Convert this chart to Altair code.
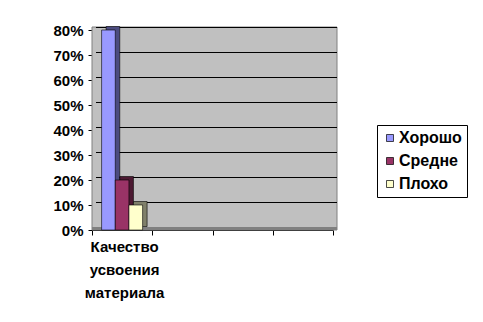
import altair as alt
import pandas as pd

categories = ["Качество усвоения материала", "c2", "c3", "c4"]
series = ["Хорошо", "Средне", "Плохо"]
values = [0.80, 0.20, 0.10]
front_colors = ["#9999FF", "#993366", "#FFFFCC"]
side_colors = ["#4C4C80", "#4D1A33", "#80806A"]
y_ticks = [0.0, 0.1, 0.2, 0.3, 0.4, 0.5, 0.6, 0.7, 0.8]

W, H = 241, 200
DX, DY = 4, -3
BDX, BDY = 4.5, -3.5
FONT = "Liberation Sans"

bars = pd.DataFrame({"cat": [categories[0]] * 3, "series": series,
                     "value": values, "dark": side_colors})
wall = pd.DataFrame({"lo": [0.0], "hi": [0.8]})
grid = pd.DataFrame({"v": y_ticks[1:]})
floor = pd.DataFrame({"v": [0.0]})

yscale = alt.Scale(domain=[0, 0.8], nice=False, zero=True)
xscale = alt.Scale(domain=categories, paddingInner=0, paddingOuter=0)

yaxis = alt.Axis(
    title=None, values=y_ticks, format=".0%", grid=False, domainColor="black", tickColor="black",
    tickSize=4, labelFont=FONT, labelFontSize=15, labelFontWeight="bold", labelColor="black",
    labelPadding=5)
xaxis = alt.Axis(
    title=None, labelAngle=0, tickBand="extent", domainColor="black", tickColor="black",
    tickSize=5, labelFont=FONT, labelFontSize=15, labelFontWeight="bold", labelColor="black",
    labelLineHeight=23, labelPadding=4, labelLimit=200, labelOffset=2,
    labelExpr="datum.value == 'Качество усвоения материала' ? split(datum.value, ' ') : ''")

wall_layer = alt.Chart(wall).mark_rect(fill="#C0C0C0", stroke="#808080", strokeWidth=1, yOffset=DY).encode(
    x=alt.value(0), x2=alt.value(W + DX),
    y=alt.Y("hi:Q", scale=yscale, axis=yaxis), y2="lo:Q",
)

floor_layer = alt.Chart(floor).mark_rule(color="#808080", strokeWidth=3, yOffset=-1.5).encode(
    x=alt.value(0), x2=alt.value(W + DX),
    y=alt.Y("v:Q", scale=yscale, axis=yaxis),
)

grid_layer = alt.Chart(grid).mark_rule(color="black", strokeWidth=1, yOffset=DY + 0.5).encode(
    x=alt.value(DX), x2=alt.value(W + DX),
    y=alt.Y("v:Q", scale=yscale, axis=yaxis),
)

shadow = alt.Chart(bars).mark_bar(stroke="black", strokeWidth=0.6, yOffset=BDY, y2Offset=BDY).encode(
    x=alt.X("cat:N", scale=xscale, axis=xaxis),
    xOffset=alt.XOffset("series:N", scale=alt.Scale(domain=series, range=[9.6 + BDX, 50.6 + BDX],
                                                     paddingInner=0, paddingOuter=0)),
    y=alt.Y("value:Q", scale=yscale, axis=yaxis),
    color=alt.Color("dark:N", scale=None, legend=None),
)

front = alt.Chart(bars).mark_bar(stroke="black", strokeWidth=0.6).encode(
    x=alt.X("cat:N", scale=xscale, axis=xaxis),
    xOffset=alt.XOffset("series:N", scale=alt.Scale(domain=series, range=[9.6, 50.6],
                                                     paddingInner=0, paddingOuter=0)),
    y=alt.Y("value:Q", scale=yscale, axis=yaxis),
    color=alt.Color("series:N", scale=alt.Scale(domain=series, range=front_colors),
                    legend=alt.Legend(title=None, orient="none", legendX=285, legendY=95,
                                      labelExpr="datum.label + '    '")),
)

chart = alt.layer(wall_layer, floor_layer, grid_layer, shadow, front).resolve_scale(
    xOffset="independent", color="independent"
).properties(
    width=W, height=H,
    autosize=alt.AutoSizeParams(type="none"),
    padding={"left": 92, "top": 30, "right": 150, "bottom": 92},
    background="white",
).configure_view(stroke=None).configure_legend(
    strokeColor="black", fillColor="white", padding=5, symbolType="square", symbolSize=49,
    symbolStrokeColor="black", symbolStrokeWidth=0.7, labelFont=FONT, labelFontSize=16,
    labelFontWeight="bold", labelColor="black", rowPadding=7, labelOffset=1, cornerRadius=0,
)

chart.save("out.html", embed_options={"renderer": "svg", "actions": False})
